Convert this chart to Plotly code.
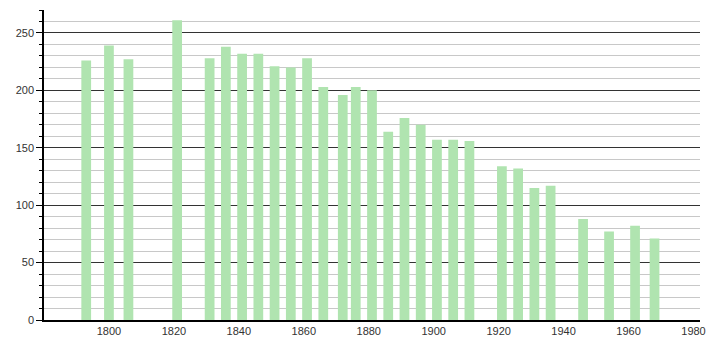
import plotly.graph_objects as go

years = [1793, 1800, 1806, 1821, 1831, 1836, 1841, 1846, 1851, 1856, 1861, 1866,
         1872, 1876, 1881, 1886, 1891, 1896, 1901, 1906, 1911, 1921, 1926, 1931,
         1936, 1946, 1954, 1962, 1968]
population = [226, 239, 227, 261, 228, 238, 232, 232, 221, 220, 228, 203,
              196, 203, 200, 164, 176, 170, 157, 157, 156, 134, 132, 115,
              117, 88, 77, 82, 71]
x_ticks = [1800, 1820, 1840, 1860, 1880, 1900, 1920, 1940, 1960, 1980]
y_ticks = [0, 50, 100, 150, 200, 250]

fig = go.Figure(go.Bar(
    x=years, y=population, width=3,
    marker=dict(color="rgb(176,228,176)", line=dict(width=0)),
))

fig.update_layout(
    width=710, height=340,
    margin=dict(l=44, r=10, t=10, b=20, autoexpand=False),
    plot_bgcolor="white", paper_bgcolor="white",
    showlegend=False,
    font=dict(family="Liberation Sans, Arial, sans-serif", size=11, color="#333"),
    xaxis=dict(
        range=[1780, 1982], tickvals=x_ticks, showgrid=False,
        showline=True, linecolor="black", linewidth=1.5,
        ticks="", zeroline=False, tickfont=dict(size=11),
        automargin=False,
    ),
    yaxis=dict(
        range=[0, 270], tickvals=y_ticks, showgrid=True,
        gridcolor="#333", gridwidth=1,
        showline=True, linecolor="black", linewidth=1.5,
        ticks="outside", ticklen=6, tickcolor="black",
        zeroline=False, tickfont=dict(size=11), automargin=False,
        minor=dict(dtick=10, showgrid=True, gridcolor="#c8c8c8", gridwidth=1,
                   ticks="outside", ticklen=3, tickcolor="black"),
    ),
)

fig.write_html("out.html")
